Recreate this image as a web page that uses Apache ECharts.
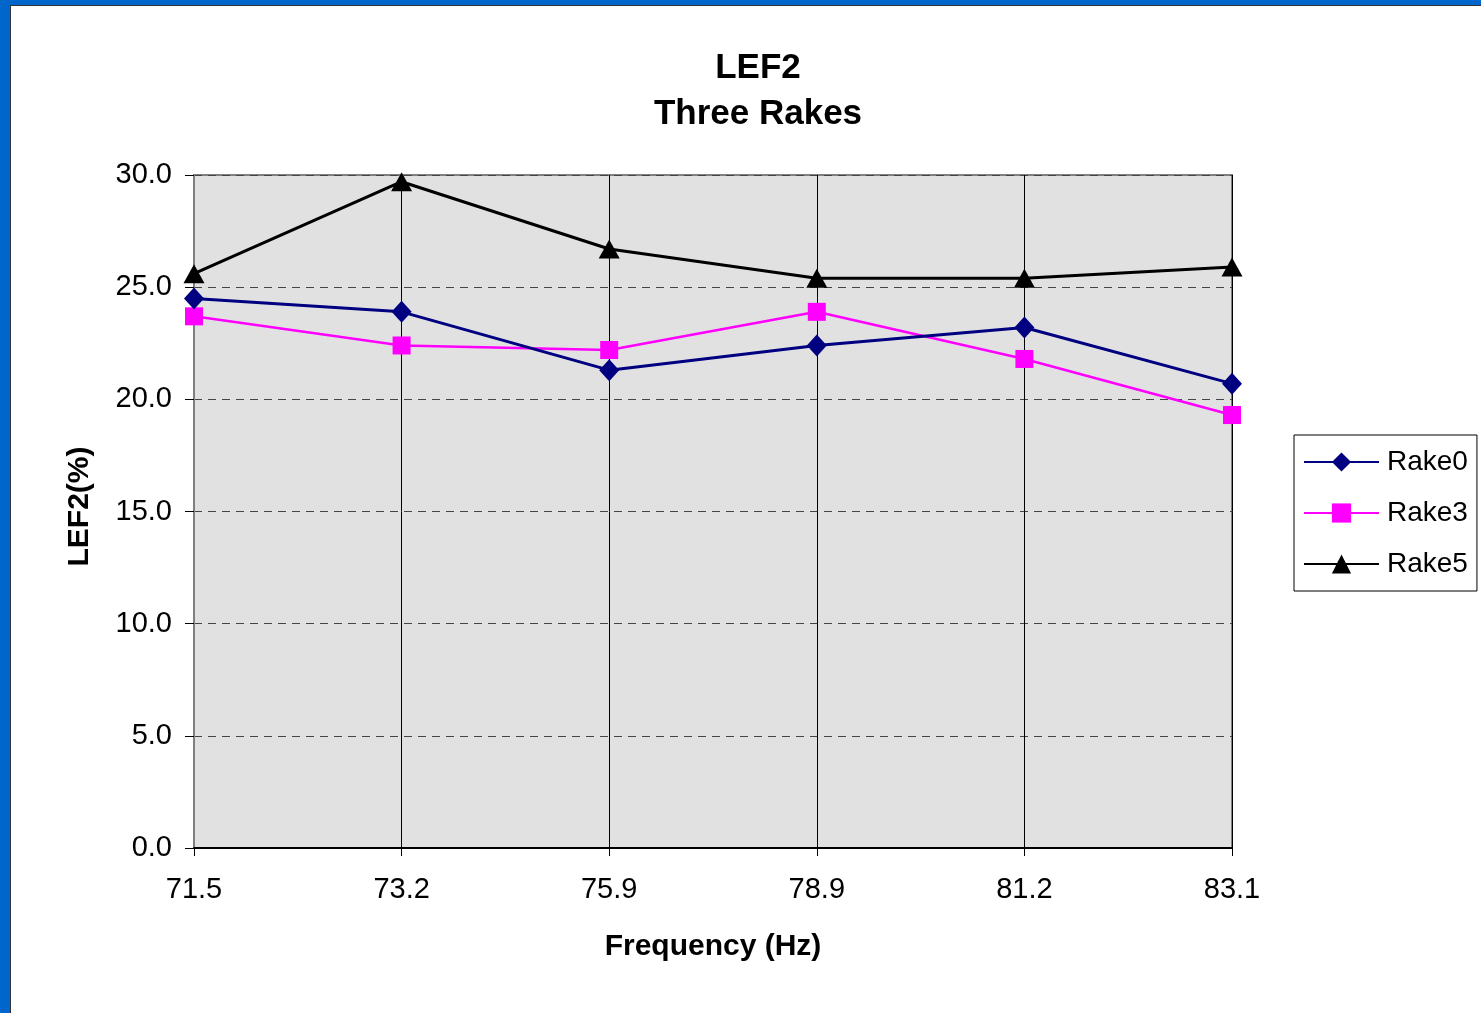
<!DOCTYPE html>
<html>
<head>
<meta charset="utf-8">
<script src="https://cdn.jsdelivr.net/npm/echarts@6/dist/echarts.min.js"></script>
<style>
  html, body { margin: 0; padding: 0; width: 1481px; height: 1013px; overflow: hidden; background: #0066cc; }
  #frame { position: absolute; left: 10px; top: 5px; width: 1480px; height: 1020px; background: #ffffff; border-left: 1px solid #333; border-top: 1px solid #333; }
  #chart { position: absolute; left: 0; top: 0; width: 1481px; height: 1013px; }
</style>
</head>
<body>
<div id="frame"></div>
<div id="chart"></div>
<script>
const categories = ['71.5', '73.2', '75.9', '78.9', '81.2', '83.1'];
const rake0 = [24.5, 23.9, 21.3, 22.4, 23.2, 20.7];
const rake3 = [23.7, 22.4, 22.2, 23.9, 21.8, 19.3];
const rake5 = [25.6, 29.7, 26.7, 25.4, 25.4, 25.9];
const yTicks = [0, 5, 10, 15, 20, 25, 30];

const font = 'Liberation Sans, Arial, sans-serif';
const chart = echarts.init(document.getElementById('chart'), null, { renderer: 'canvas' });
chart.setOption({
  backgroundColor: 'transparent',
  animation: false,
  title: {
    text: 'LEF2\nThree Rakes',
    left: 753,
    top: 40,
    textAlign: 'center',
    textStyle: { fontFamily: font, fontSize: 35, fontWeight: 'bold', color: '#000', lineHeight: 46 }
  },
  legend: {
    orient: 'vertical',
    left: 1294,
    top: 435,
    padding: [12, 9, 12, 9],
    itemGap: 21,
    itemWidth: 75,
    itemHeight: 24,
    borderColor: '#000',
    borderWidth: 1,
    backgroundColor: '#fff',
    textStyle: { fontFamily: font, fontSize: 28, color: '#000', lineHeight: 30, padding: [0, 0, 0, 3] },
    data: ['Rake0', 'Rake3', 'Rake5']
  },
  grid: {
    left: 194, top: 175, right: 249, bottom: 165,
    show: true, backgroundColor: '#e1e1e1', borderColor: '#808080', borderWidth: 2,
    containLabel: false
  },
  xAxis: {
    type: 'category',
    data: categories,
    boundaryGap: false,
    name: 'Frequency (Hz)',
    nameLocation: 'middle',
    nameGap: 84,
    nameTextStyle: { fontFamily: font, fontSize: 30, fontWeight: 'bold', color: '#000' },
    axisLine: { lineStyle: { color: '#000', width: 2 } },
    axisTick: { show: true, length: 8, inside: false, lineStyle: { color: '#000', width: 1 }, alignWithLabel: true },
    axisLabel: { fontFamily: font, fontSize: 29, color: '#000', margin: 27 },
    splitLine: { show: true, lineStyle: { color: '#000', width: 1, type: 'solid' } }
  },
  yAxis: {
    type: 'value',
    min: yTicks[0],
    max: yTicks[yTicks.length - 1],
    interval: 5,
    name: 'LEF2(%)',
    nameLocation: 'middle',
    nameRotate: 90,
    nameGap: 99,
    nameTextStyle: { fontFamily: font, fontSize: 30, fontWeight: 'bold', color: '#000', padding: [0, 0, 0, 10] },
    axisLine: { show: true, lineStyle: { color: '#808080', width: 2 } },
    axisTick: { show: true, length: 9, inside: false, lineStyle: { color: '#000', width: 1 } },
    axisLabel: { fontFamily: font, fontSize: 29, color: '#000', margin: 22, formatter: v => v.toFixed(1) },
    splitLine: { show: true, lineStyle: { color: '#444', width: 1, type: [8, 6] } }
  },
  series: [
    {
      name: 'Rake0', type: 'line', data: rake0,
      symbol: 'diamond', symbolSize: [20, 22],
      itemStyle: { color: '#000080' },
      lineStyle: { color: '#000080', width: 3 },
      z: 3
    },
    {
      name: 'Rake3', type: 'line', data: rake3,
      symbol: 'rect', symbolSize: 18,
      itemStyle: { color: '#ff00ff' },
      lineStyle: { color: '#ff00ff', width: 2.5 },
      z: 2
    },
    {
      name: 'Rake5', type: 'line', data: rake5,
      symbol: 'triangle', symbolSize: [21, 19],
      itemStyle: { color: '#000' },
      lineStyle: { color: '#000', width: 3 },
      z: 4
    }
  ]
});
</script>
</body>
</html>
